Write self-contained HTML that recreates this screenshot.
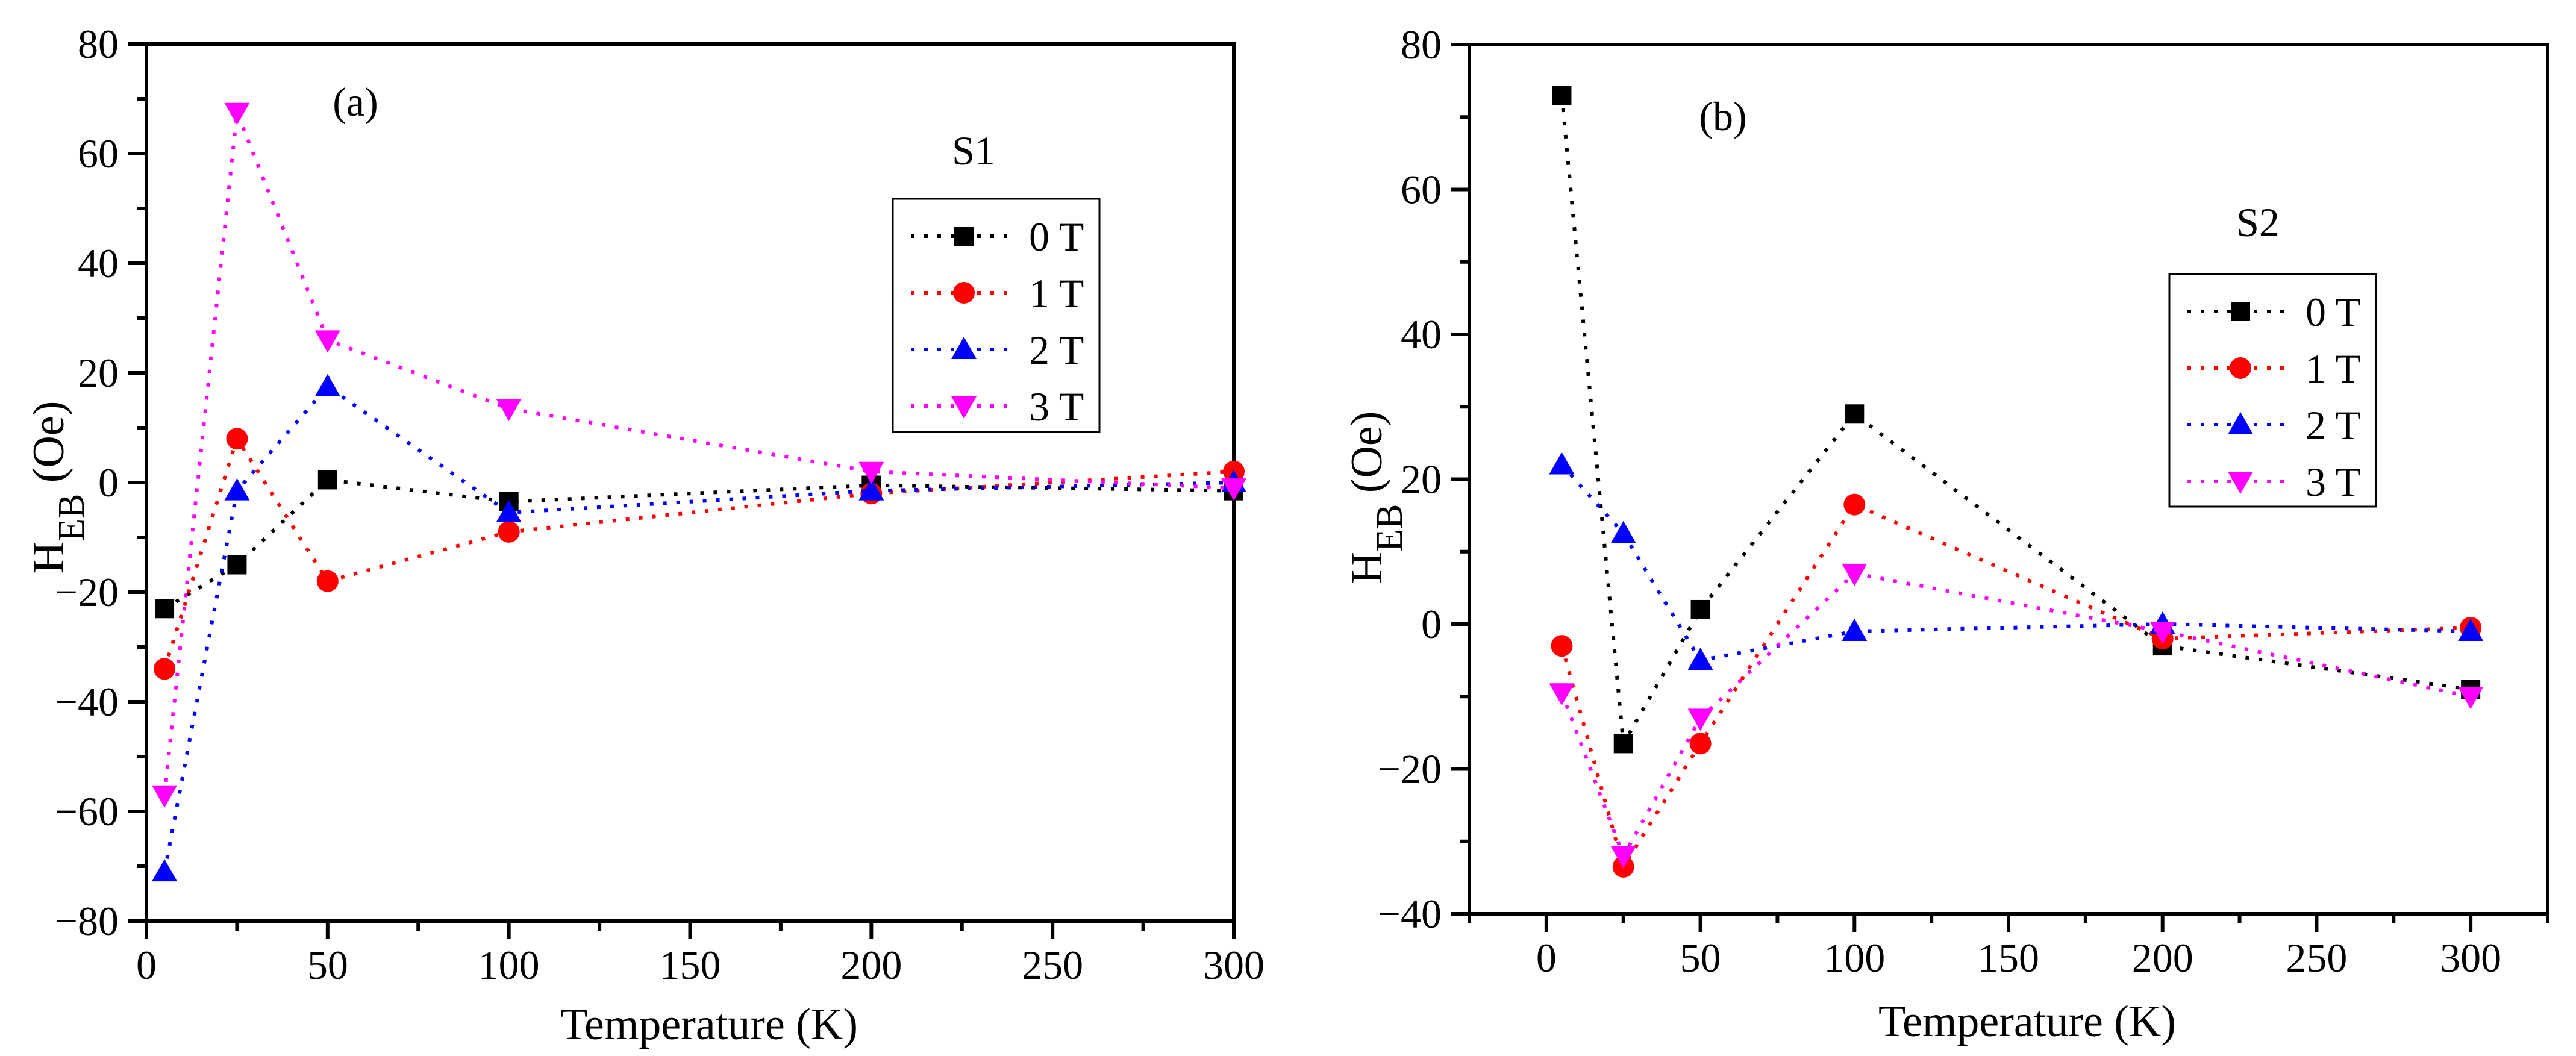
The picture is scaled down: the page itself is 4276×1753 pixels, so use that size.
<!DOCTYPE html>
<html><head><meta charset="utf-8"><style>
html,body{margin:0;padding:0;background:#fff}
svg{display:block}
svg text{font-family:"Liberation Serif","DejaVu Serif",serif !important;fill:#000}
</style></head><body>
<svg id="fig" width="4276" height="1753" viewBox="0 0 4276 1753" xmlns="http://www.w3.org/2000/svg" font-family="Liberation Serif, serif" style="font-family:'Liberation Serif',serif"></svg>
<script>
const temps = [5, 25, 50, 100, 200, 300];
const seriesNames = ["0 T", "1 T", "2 T", "3 T"];
const s1_0T = [-23, -15, 0.5, -3.5, -0.5, -1.5];
const s1_1T = [-34, 8, -18, -9, -2, 2];
const s1_2T = [-71, -1.5, 17.5, -5.5, -1.5, 0];
const s1_3T = [-57, 67.5, 26, 13.5, 2, -1];
const s2_0T = [73, -16.5, 2, 29, -3, -9];
const s2_1T = [-3, -33.5, -16.5, 16.5, -2, -0.5];
const s2_2T = [22, 12.5, -5, -1, 0, -1];
const s2_3T = [-9.5, -32, -13, 7, -1, -10];
const xTicksA = [0, 50, 100, 150, 200, 250, 300];
const yTicksA = [-80, -60, -40, -20, 0, 20, 40, 60, 80];
const xTicksB = [0, 50, 100, 150, 200, 250, 300];
const yTicksB = [-40, -20, 0, 20, 40, 60, 80];

const NS = "http://www.w3.org/2000/svg";
const svg = document.getElementById("fig");
const FONT = "'Liberation Serif', 'DejaVu Serif', serif";
function mk(tag, attrs, parent) {
  const e = document.createElementNS(NS, tag);
  for (const k in attrs) e.setAttribute(k, attrs[k]);
  if (tag === "text") { e.setAttribute("font-family", FONT); e.style.fontFamily = FONT; }
  (parent || svg).appendChild(e);
  return e;
}
const colors = ["#000000", "#ff0000", "#0000ff", "#ff00ff"];
const shapes = ["square", "circle", "up", "down"];

function marker(g, shape, cx, cy, col) {
  let m;
  if (shape === "square") m = mk("rect", {x: cx - 16, y: cy - 16, width: 32, height: 32, fill: col}, g);
  else if (shape === "circle") m = mk("circle", {cx: cx, cy: cy, r: 18, fill: col}, g);
  else if (shape === "up") m = mk("polygon", {points: `${cx},${cy - 21} ${cx - 21},${cy + 16} ${cx + 21},${cy + 16}`, fill: col}, g);
  else m = mk("polygon", {points: `${cx},${cy + 21} ${cx - 21},${cy - 16} ${cx + 21},${cy - 16}`, fill: col}, g);
  return m;
}

function panel(cfg) {
  const g = mk("g", {});
  
  
  const X = v => cfg.x0 + (v - cfg.xmin) * (cfg.x1 - cfg.x0) / (cfg.xmax - cfg.xmin);
  const Y = v => cfg.y1 - (v - cfg.ymin) * (cfg.y1 - cfg.y0) / (cfg.ymax - cfg.ymin);
  const fr = mk("rect", {x: cfg.x0, y: cfg.y0, width: cfg.x1 - cfg.x0, height: cfg.y1 - cfg.y0, fill: "none", stroke: "#000", "stroke-width": 6}, g);
  
  
  for (let v = cfg.xTickStart; v <= cfg.xmax + 0.01; v += cfg.xMinor) {
    const major = cfg.xTicks.includes(v);
    mk("line", {x1: X(v), x2: X(v), y1: cfg.y1, y2: cfg.y1 + (major ? 30 : 16), stroke: "#000", "stroke-width": 6}, g);
  }
  cfg.xTicks.forEach(v => {
    const t = mk("text", {x: X(v), y: cfg.y1 + 96, "font-size": 68, "text-anchor": "middle"}, g);
    t.textContent = v;
    
    
  });
  for (let v = cfg.ymin; v <= cfg.ymax + 0.01; v += cfg.yMinor) {
    const major = cfg.yTicks.includes(v);
    mk("line", {x1: cfg.x0, x2: cfg.x0 - (major ? 30 : 16), y1: Y(v), y2: Y(v), stroke: "#000", "stroke-width": 6}, g);
  }
  cfg.yTicks.forEach(v => {
    const t = mk("text", {x: cfg.x0 - 46, y: Y(v) + 23, "font-size": 68, "text-anchor": "end"}, g);
    t.textContent = v < 0 ? "\u2212" + Math.abs(v) : v;
    
    
  });
  const xt = mk("text", {x: cfg.xTitleX, y: cfg.xTitleY, "font-size": 74, "text-anchor": "middle"}, g);
  xt.textContent = "Temperature (K)";
  
  
  const yt = mk("text", {x: 0, y: 0, "font-size": 74, "text-anchor": "middle", transform: `translate(${cfg.yTitleX},${cfg.yTitleY}) rotate(-90)`}, g);
  yt.innerHTML = 'H<tspan baseline-shift="sub" font-size="62">EB</tspan> (Oe)';
  
  
  const lab = mk("text", {x: cfg.labX, y: cfg.labY, "font-size": 68, "text-anchor": "middle"}, g);
  lab.textContent = cfg.label;
  
  
  const sl = mk("text", {x: cfg.sX, y: cfg.sY, "font-size": 68, "text-anchor": "middle"}, g);
  sl.textContent = cfg.sample;
  
  
  cfg.series.forEach((vals, i) => {
    const sg = mk("g", {}, g);
    
    
    const pts = temps.map((t, j) => X(t) + "," + Y(vals[j])).join(" ");
    mk("polyline", {points: pts, fill: "none", stroke: colors[i], "stroke-width": 6, "stroke-dasharray": "6 16"}, sg);
    temps.forEach((t, j) => {
      const m = marker(sg, shapes[i], X(t), Y(vals[j]), colors[i]);
      
      
    });
  });
  const lg = mk("g", {}, g);
  
  
  mk("rect", {x: cfg.lx, y: cfg.ly, width: cfg.lw, height: cfg.lh, fill: "#fff", stroke: "#000", "stroke-width": 3}, lg);
  seriesNames.forEach((n, i) => {
    const e = mk("g", {}, lg);
    
    
    const cy = cfg.ly + 62 + i * 94;
    mk("line", {x1: cfg.lx + 30, x2: cfg.lx + 195, y1: cy, y2: cy, stroke: colors[i], "stroke-width": 6, "stroke-dasharray": "6 16"}, e);
    marker(e, shapes[i], cfg.lx + 118, cy, colors[i]);
    const t = mk("text", {x: cfg.lx + 226, y: cy + 24, "font-size": 68}, e);
    t.textContent = n;
  });
}

panel({name: "panel-a-s1", x0: 243, x1: 2048, y0: 73, y1: 1529, xmin: 0, xmax: 300, ymin: -80, ymax: 80,
  xTicks: xTicksA, yTicks: yTicksA, xTickStart: 0, xMinor: 25, yMinor: 10,
  xTitleX: 1177, xTitleY: 1725, yTitleX: 105, yTitleY: 809, label: "(a)", labX: 590, labY: 192,
  sample: "S1", sX: 1616, sY: 273, series: [s1_0T, s1_1T, s1_2T, s1_3T],
  lx: 1482, ly: 330, lw: 343, lh: 387});
panel({name: "panel-b-s2", x0: 2439, x1: 4229, y0: 74, y1: 1517, xmin: -25, xmax: 325, ymin: -40, ymax: 80,
  xTicks: xTicksB, yTicks: yTicksB, xTickStart: -25, xMinor: 25, yMinor: 10,
  xTitleX: 3365, xTitleY: 1720, yTitleX: 2293, yTitleY: 826, label: "(b)", labX: 2860, labY: 216,
  sample: "S2", sX: 3748, sY: 392, series: [s2_0T, s2_1T, s2_2T, s2_3T],
  lx: 3601, ly: 455, lw: 343, lh: 386});
</script>
</body></html>
